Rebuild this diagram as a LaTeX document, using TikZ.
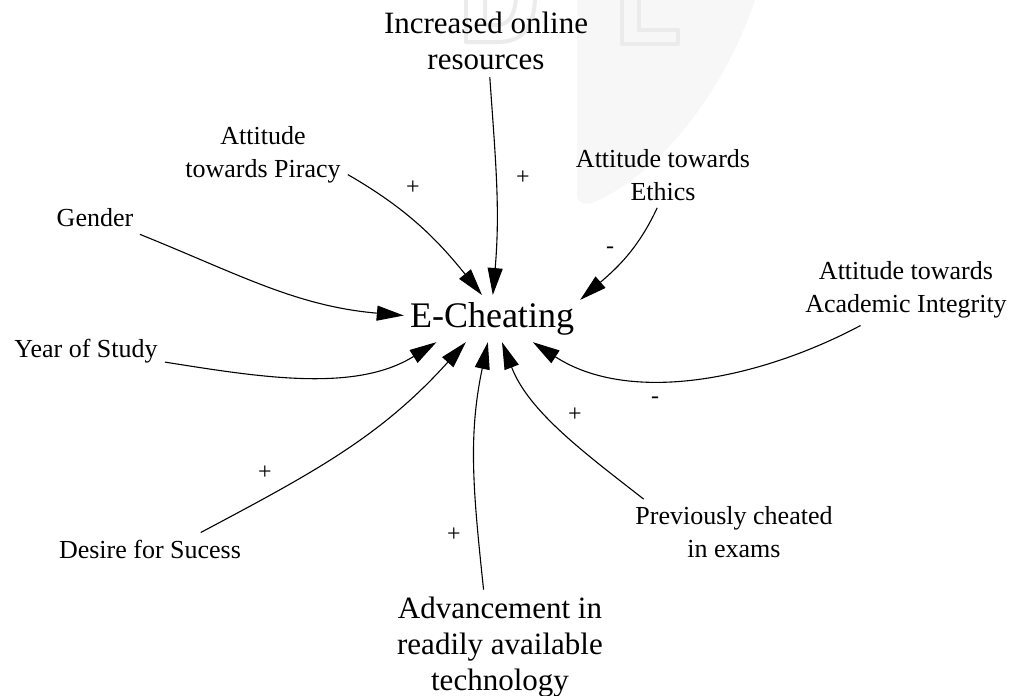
\documentclass[tikz,border=0pt]{standalone}
\usepackage{fontspec}
\setmainfont{Liberation Serif}
\usetikzlibrary{arrows.meta}
\tikzset{
  var/.style={font=\fontsize{26}{33}\selectfont, align=center, inner sep=7pt},
  bigvar/.style={font=\fontsize{31}{36}\selectfont, align=center, inner sep=7pt},
  core/.style={font=\fontsize{36}{40}\selectfont, inner xsep=6pt, inner ysep=7pt},
  link/.style={-{Triangle[length=27pt,width=15pt]}, line width=1.1pt},
  sign/.style={font=\fontsize{24}{24}\selectfont, inner sep=0pt},
  wm/.style={draw=gray!16, line width=4pt, line join=round}
}
\begin{document}
\begin{tikzpicture}[x=1pt,y=1pt]
    \useasboundingbox (0,0) rectangle (1010,-696);
    \fill[gray!6] (577,0) -- (577,-195) .. controls (577,-203) and (585,-205) .. (592,-203) .. controls (660,-175) and (725,-90) .. (755,0) -- cycle;
    \draw[wm] (466,5) -- (466,-42) -- (497,-42) .. controls (525,-42) and (535,-25) .. (535,5);
    \draw[wm] (485,5) -- (485,-25) -- (497,-25) .. controls (510,-25) and (516,-12) .. (516,5);
    \draw[wm] (622,5) -- (622,-44) -- (678,-44) -- (678,-30) -- (639,-30) -- (639,5);

    \node[core] (ec) at (492,-318.6) {E-Cheating};
    \node[bigvar] (inc) at (486,-41) {Increased online\\resources};
    \node[var] (pir) at (263,-155) {Attitude\\towards Piracy};
    \node[var] (gen) at (95,-218) {Gender};
    \node[var] (yos) at (86,-351) {Year of Study};
    \node[var] (des) at (150,-549) {Desire for Sucess};
    \node[bigvar] (adv) at (500,-647) {Advancement in\\readily available\\technology};
    \node[var] (prev) at (734,-532) {Previously cheated\\in exams};
    \node[var] (aca) at (906,-290) {Attitude towards\\Academic Integrity};
    \node[var] (eth) at (663,-175) {Attitude towards\\Ethics};

    \draw[link] (inc.-84) to[out=-86,in=85] (ec.88);
    \draw[link] (pir.-13) to[out=-30,in=129] (ec.113);
    \draw[link] (eth.-100) to[out=245,in=41] (ec.12);
    \draw[link] (gen.-20) to[out=-22,in=175] (ec.178);
    \draw[link] (yos.-8) to[out=-9,in=212,looseness=0.9] (ec.203);
    \draw[link] (des.18) to[out=28,in=228] (ec.222);
    \draw[link] (adv.106) to[out=96,in=258] (ec.260);
    \draw[link] (prev.160) to[out=142,in=291,looseness=0.9] (ec.293);
    \draw[link] (aca.218) to[out=208,in=327,looseness=0.9] (ec.330);

    \node[sign] (spir) at (413,-188) {+};
    \node[sign] (sinc) at (523,-178) {+};
    \node[sign] (seth) at (610,-250) {-};
    \node[sign] (saca) at (655,-400) {-};
    \node[sign] (sprev) at (575,-415) {+};
    \node[sign] (sadv) at (454,-535) {+};
    \node[sign] (sdes) at (265,-473) {+};
\end{tikzpicture}
\end{document}
